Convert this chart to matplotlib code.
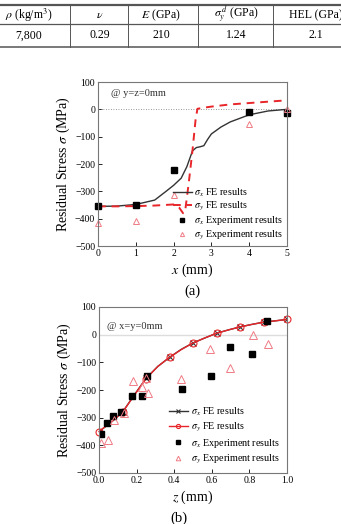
import matplotlib
matplotlib.use("Agg")
import matplotlib.pyplot as plt
from matplotlib.lines import Line2D

plt.rcParams["font.family"] = ["Liberation Serif", "DejaVu Serif"]
plt.rcParams["mathtext.fontset"] = "stix"

# table
table_header = [r"$\rho$ (kg/m$^3$)", r"$\nu$", r"$E$ (GPa)", r"$\sigma_y^{\,d}$ (GPa)", "HEL (GPa)"]
table_values = ["7,800", "0.29", "210", "1.24", "2.1"]

# (a) along x at y=z=0
xa_fe = [0, 0.5, 1.0, 1.5, 1.8, 2.0, 2.2, 2.35, 2.5, 2.6, 2.7, 2.8, 2.9, 3.0, 3.25, 3.5, 4.0, 4.5, 5.0]
sx_fe_a = [-355, -354, -348, -332, -300, -278, -252, -210, -152, -140, -137, -133, -110, -90, -65, -46, -20, -6, 0]
xa_fe_y = [0, 0.5, 1.0, 1.5, 2.0, 2.15, 2.25, 2.3, 2.4, 2.5, 2.58, 2.63, 2.8, 3.0, 3.5, 4.0, 4.5, 5.0]
sy_fe_a = [-355, -355, -354, -352, -348, -360, -380, -378, -270, -150, -40, 2, 6, 10, 18, 23, 28, 33]
xa_exp = [0, 1, 2, 4, 5]
sx_exp_a = [-355, -350, -222, -10, -15]
sy_exp_a = [-415, -410, -315, -52, 3]

# (b) along z at x=y=0
z_fe = [0, 0.0625, 0.125, 0.1875, 0.25, 0.3125, 0.375, 0.4375, 0.5, 0.5625,
        0.625, 0.6875, 0.75, 0.8125, 0.875, 0.9375, 1.0]
sx_fe_b = [-350, -318, -280, -218, -158, -115, -82, -53, -30, -12, 5, 17, 28, 37, 45, 50, 55]
sy_fe_b = [-350, -317, -281, -219, -159, -115, -82, -54, -30, -12, 5, 17, 28, 37, 45, 50, 55]
z_sx_exp = [0.009, 0.044, 0.076, 0.115, 0.177, 0.23, 0.253, 0.439, 0.596, 0.696, 0.816, 0.896]
sx_exp_b = [-360, -319, -295, -281, -222, -222, -151, -198, -151, -45, -70, 49]
z_sy_exp = [0.009, 0.046, 0.08, 0.133, 0.179, 0.227, 0.248, 0.262, 0.435, 0.593, 0.696, 0.82, 0.9]
sy_exp_b = [-392, -382, -310, -283, -166, -188, -158, -210, -161, -53, -122, -1, -33]

W, H = 341, 524
fig = plt.figure(figsize=(W / 100, H / 100), dpi=100)

# ---- table drawn with figure lines/text ----
def fy(py):
    return 1 - py / H

line_col = "#555555"
fig.add_artist(Line2D([0, 1], [fy(5), fy(5)], color=line_col, lw=1.6))
fig.add_artist(Line2D([0, 1], [fy(24), fy(24)], color=line_col, lw=0.9))
fig.add_artist(Line2D([0, 1], [fy(47), fy(47)], color=line_col, lw=1.1))
for px in [70, 128, 198, 273]:
    fig.add_artist(Line2D([px / W, px / W], [fy(5), fy(47)], color=line_col, lw=0.7))
col_x = [29, 100, 161, 236, 316]
for cx, head, val in zip(col_x, table_header, table_values):
    fig.text(cx / W, fy(15), head, ha="center", va="center", fontsize=8.5)
    fig.text(cx / W, fy(35.5), val, ha="center", va="center", fontsize=8.5)


def style_axes(ax):
    ax.tick_params(direction="in", labelsize=7, length=3, width=0.6, pad=2)
    for s in ax.spines.values():
        s.set_color("#777777")
        s.set_linewidth(0.8)
    ax.set_ylim(-500, 100)
    ax.set_yticks(range(-500, 101, 100))
    ax.set_ylabel(r"Residual Stress $\sigma$ (MPa)", fontsize=10, labelpad=2)


# ---- (a) ----
axa = fig.add_axes([98 / W, fy(246), 189 / W, (246 - 82) / H])
style_axes(axa)
axa.axhline(0, color="#777777", lw=0.6, ls=(0, (1, 2)))
axa.plot(xa_fe, sx_fe_a, color="#333333", lw=1.0, label=r"$\sigma_x$ FE results")
axa.plot(xa_fe_y, sy_fe_a, color="#e8262a", lw=1.4, ls=(0, (4, 3)), label=r"$\sigma_y$ FE results")
axa.plot(xa_exp, sx_exp_a, "s", color="black", ms=4, ls="none", label=r"$\sigma_x$ Experiment results", clip_on=False)
axa.plot(xa_exp, sy_exp_a, "^", mfc="none", mec="#f07b85", mew=0.7, ms=5, ls="none",
         label=r"$\sigma_y$ Experiment results", clip_on=False)
axa.set_xlim(0, 5)
axa.set_xticks(range(0, 6))
axa.set_xlabel(r"$x$ (mm)", fontsize=10, labelpad=3)
axa.text(0.07, 0.93, "@ y=z=0mm", transform=axa.transAxes, fontsize=7.5, va="center", color="#333333")
axa.legend(loc="lower right", bbox_to_anchor=(1.01, -0.01), frameon=False, fontsize=7.3,
           handlelength=1.9, handletextpad=0.2, labelspacing=0.12, borderaxespad=0.2, markerscale=0.6)
fig.text(192 / W, fy(291), "(a)", ha="center", va="center", fontsize=10.5)

# ---- (b) ----
axb = fig.add_axes([99 / W, fy(473), 188 / W, (473 - 307) / H])
style_axes(axb)
axb.axhline(0, color="#dddddd", lw=1.0)
axb.plot(z_fe, sx_fe_b, color="#333333", lw=1.0, marker="x", ms=4, mew=0.8, markevery=2,
         label=r"$\sigma_x$ FE results")
axb.plot(z_fe, sy_fe_b, color="#e8262a", lw=1.0, marker="o", mfc="none", ms=5, mew=0.8, markevery=2,
         label=r"$\sigma_y$ FE results", clip_on=False)
axb.plot(z_sx_exp, sx_exp_b, "s", color="black", ms=4, ls="none", label=r"$\sigma_x$ Experiment results")
axb.plot(z_sy_exp, sy_exp_b, "^", mfc="none", mec="#f07b85", mew=0.7, ms=5.5, ls="none",
         label=r"$\sigma_y$ Experiment results")
axb.set_xlim(0, 1.0)
axb.set_xticks([0.0, 0.2, 0.4, 0.6, 0.8, 1.0])
axb.set_xticklabels(["0.0", "0.2", "0.4", "0.6", "0.8", "1.0"])
axb.set_xlabel(r"$z$ (mm)", fontsize=10, labelpad=3)
axb.text(0.04, 0.88, "@ x=y=0mm", transform=axb.transAxes, fontsize=7.5, va="center", color="#333333")
axb.legend(loc="lower right", bbox_to_anchor=(1.0, 0.0), frameon=False, fontsize=7.3,
           handlelength=1.9, handletextpad=0.3, labelspacing=0.3, borderaxespad=0.3, markerscale=0.6)
fig.text(179 / W, fy(518), "(b)", ha="center", va="center", fontsize=10.5)

fig.savefig("out.png", dpi=100)
